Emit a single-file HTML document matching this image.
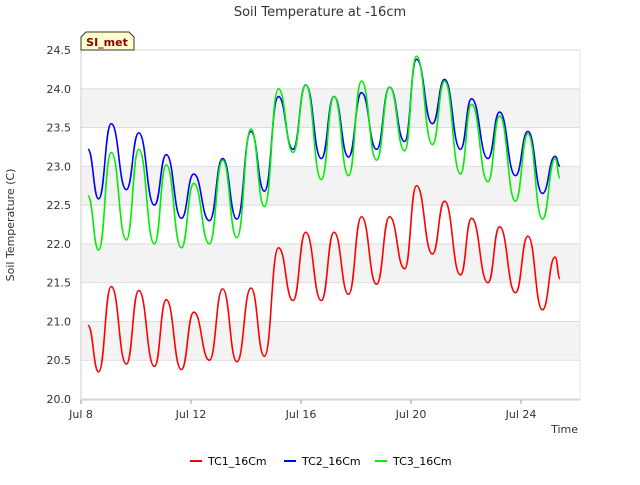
<!DOCTYPE html>
<html><head><meta charset="utf-8"><style>
body{margin:0;background:#fff;font-family:"Liberation Sans","DejaVu Sans",sans-serif;}
</style></head><body>
<svg width="640" height="480" viewBox="0 0 640 480" xmlns="http://www.w3.org/2000/svg" font-family="DejaVu Sans, Liberation Sans, sans-serif">
<text x="320" y="16" text-anchor="middle" font-size="13" fill="#333">Soil Temperature at -16cm</text>
<g id="bands"></g><g id="grid"></g>
<line x1="81" y1="50" x2="81" y2="400" stroke="#ccc"/>
<line x1="81" y1="400" x2="580" y2="400" stroke="#ccc"/>
<line x1="580" y1="50" x2="580" y2="400" stroke="#e4e4e4"/>
<g id="yticks" font-size="11" fill="#333"></g><g id="xticks" font-size="11" fill="#333"></g>
<g id="series"></g>
<text x="14" y="225" transform="rotate(-90 14 225)" text-anchor="middle" font-size="11" fill="#333">Soil Temperature (C)</text>
<text x="578" y="433" text-anchor="end" font-size="11" fill="#333">Time</text>
<g>
<path d="M81,50 L81,37 L86,32 L129,32 L134,37 L134,50 Z" fill="#ffffcc" stroke="#333"/>
<text x="107" y="46" text-anchor="middle" font-size="11" font-weight="bold" fill="#8b0000">SI_met</text></g>
<g id="legend" font-size="11" fill="#000"></g>
</svg>
<script>
const times=[0.25,0.64,1.1,1.65,2.1,2.67,3.1,3.65,4.1,4.67,5.15,5.67,6.18,6.67,7.18,7.71,8.17,8.74,9.2,9.73,10.2,10.75,11.22,11.77,12.2,12.78,13.22,13.8,14.2,14.8,15.22,15.8,16.25,16.78,17.24,17.42];
const tc1=[20.95,20.35,21.45,20.45,21.4,20.42,21.28,20.38,21.12,20.5,21.42,20.48,21.43,20.55,21.95,21.27,22.15,21.27,22.15,21.35,22.35,21.48,22.35,21.68,22.75,21.87,22.55,21.6,22.33,21.5,22.22,21.37,22.1,21.15,21.83,21.55];
const tc2=[23.22,22.58,23.55,22.7,23.43,22.5,23.15,22.33,22.9,22.3,23.1,22.32,23.45,22.68,23.9,23.22,24.05,23.1,23.9,23.12,23.95,23.22,24.02,23.32,24.38,23.55,24.12,23.22,23.87,23.1,23.7,22.88,23.45,22.65,23.13,23.0];
const tc3=[22.62,21.92,23.18,22.05,23.22,22.0,23.02,21.95,22.78,22.0,23.08,22.08,23.48,22.48,24.0,23.18,24.05,22.83,23.9,22.88,24.1,23.08,24.02,23.2,24.42,23.28,24.1,22.9,23.8,22.8,23.65,22.55,23.42,22.32,23.1,22.85];
const yTicks=[20.0,20.5,21.0,21.5,22.0,22.5,23.0,23.5,24.0,24.5];
const xTickDays=[0,4,8,12,16];
const xTickLabels=["Jul 8","Jul 12","Jul 16","Jul 20","Jul 24"];
const seriesNames=["TC1_16Cm","TC2_16Cm","TC3_16Cm"];
const seriesColors=["#ff0000","#0000ff","#00ee00"];
const NS="http://www.w3.org/2000/svg";
const X=d=>81+d*27.5, Y=v=>399-(v-20)*349/4.5;
function mk(t,a,p){const e=document.createElementNS(NS,t);for(const k in a)e.setAttribute(k,a[k]);p.appendChild(e);return e;}
const bands=document.getElementById('bands'),grid=document.getElementById('grid'),yt=document.getElementById('yticks');
for(let i=0;i<yTicks.length;i++){const v=yTicks[i];
 if(i%2==1&&i<yTicks.length-1){const r=mk('rect',{x:81,y:Y(v+0.5),width:499,height:Y(v)-Y(v+0.5),fill:'#f3f3f3'},bands);
  
  }
 const l=mk('line',{x1:81,x2:580,y1:Y(v),y2:Y(v),stroke:'#dddddd'},grid);
 
 
 const t=mk('text',{x:71,y:Y(v)+4,'text-anchor':'end'},yt);t.textContent=v.toFixed(1);
 
 }
const xt=document.getElementById('xticks');
xTickDays.forEach((d,i)=>{mk('line',{x1:X(d),x2:X(d),y1:400,y2:404,stroke:'#999'},xt);
 const t=mk('text',{x:X(d),y:418,'text-anchor':'middle'},xt);t.textContent=xTickLabels[i];
 
 });
const sg=document.getElementById('series');
[tc1,tc2,tc3].forEach((vals,s)=>{let d='M'+X(times[0])+','+Y(vals[0]);
 for(let i=1;i<times.length;i++){const x0=X(times[i-1]),x1=X(times[i]),y0=Y(vals[i-1]),y1=Y(vals[i]),m=(x1-x0)/2;
  d+=' C'+(x0+m)+','+y0+' '+(x1-m)+','+y1+' '+x1+','+y1;}
 const p=mk('path',{d:d,fill:'none',stroke:seriesColors[s],'stroke-width':1.6},sg);
 
 });
const lg=document.getElementById('legend');const lx=[190,284,375];
seriesNames.forEach((n,i)=>{const g=mk('g',{},lg);
 
 
 mk('line',{x1:lx[i],x2:lx[i]+12,y1:461,y2:461,stroke:seriesColors[i],'stroke-width':2},g);
 const t=mk('text',{x:lx[i]+18,y:465},g);t.textContent=n;});
</script>
</body></html>
